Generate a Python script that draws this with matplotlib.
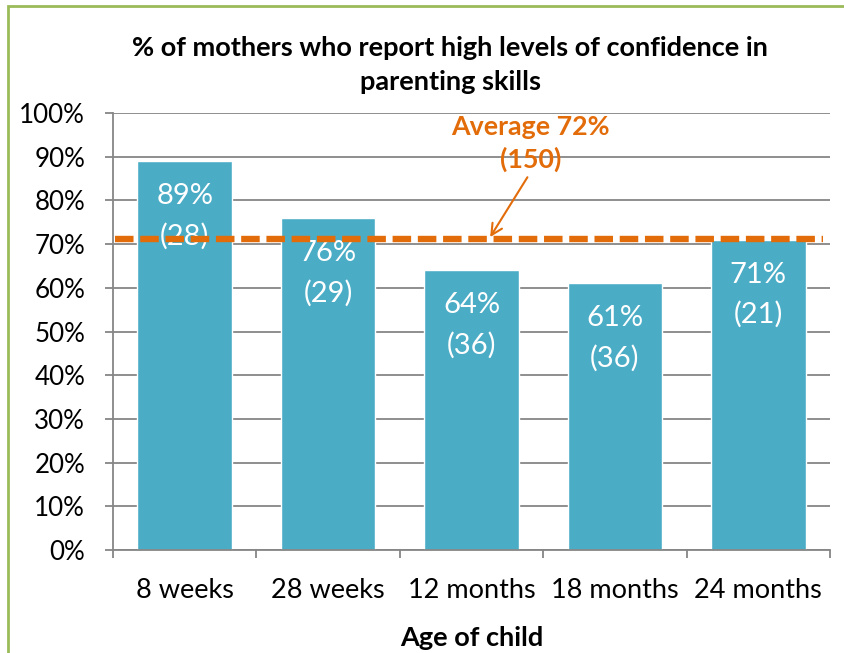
import matplotlib
matplotlib.use("Agg")
import matplotlib.pyplot as plt
from matplotlib.patches import Rectangle
from matplotlib.ticker import MultipleLocator, FuncFormatter

plt.rcParams["font.family"] = ["Lato", "DejaVu Sans"]

# 数据
categories = ["8 weeks", "28 weeks", "12 months", "18 months", "24 months"]
percent = [89, 76, 64, 61, 71]
counts = [28, 29, 36, 36, 21]
average_value = 71.1
average_label = "Average 72%\n(150)"

BAR_COLOR = "#4BACC6"
AVG_COLOR = "#E36C0A"

W, H = 845, 653
fig = plt.figure(figsize=(W / 100, H / 100), dpi=100)
# 绿色外框
fig.patches.append(Rectangle((8 / W, -0.1), 1.2, 1.1 - 6 / H, transform=fig.transFigure,
                             fill=False, edgecolor="#9BBB59", linewidth=2))

ax = fig.add_axes([113 / W, 1 - 550 / H, (830 - 113) / W, (550 - 113) / H])

x = list(range(len(categories)))
ax.bar(x, percent, width=0.66, color=BAR_COLOR, edgecolor="white", linewidth=1, zorder=2)

# 柱内标签：百分比 + 样本数
for xi, p, n in zip(x, percent, counts):
    ax.annotate(f"{p}%", (xi, p), xytext=(0, -35), textcoords="offset pixels",
                ha="center", va="center", color="white", fontsize=21, zorder=3)
    ax.annotate(f"({n})", (xi, p), xytext=(0, -75), textcoords="offset pixels",
                ha="center", va="center", color="white", fontsize=21, zorder=3)

ax.axhline(average_value, xmin=0.003, xmax=0.99, color=AVG_COLOR, linestyle=(0, (2.9, 1.05)),
           linewidth=4.6, zorder=4)
ax.text(2.41, 93.0, average_label, ha="center", va="center", fontsize=19.3, fontweight="bold",
        color=AVG_COLOR, linespacing=1.4, zorder=5)
ax.annotate("", xy=(2.13, average_value + 0.5), xytext=(2.39, 85.3),
            arrowprops=dict(arrowstyle="->", color=AVG_COLOR, lw=1.5, shrinkA=0, shrinkB=0,
                            mutation_scale=20),
            zorder=5)

ax.set_xlim(-0.5, 4.5)
ax.set_ylim(0, 100)
ax.yaxis.set_major_locator(MultipleLocator(10))
ax.yaxis.set_major_formatter(FuncFormatter(lambda v, _: f"{v:.0f}%"))
ax.grid(axis="y", color="#868686", linewidth=1.3, zorder=0)
ax.set_axisbelow(True)

ax.set_xticks([i - 0.5 for i in range(len(categories) + 1)])
ax.set_xticklabels([])
ax.set_xticks(x, minor=True)
ax.set_xticklabels(categories, minor=True, fontsize=19.5)
ax.tick_params(axis="x", which="minor", length=0, pad=20)
ax.tick_params(axis="x", which="major", length=6, color="#868686", width=1.3)
ax.tick_params(axis="y", length=6, color="#868686", width=1.3, labelsize=18.7, pad=14)

for s in ["top", "right"]:
    ax.spines[s].set_visible(False)
for s in ["left", "bottom"]:
    ax.spines[s].set_color("#868686")
    ax.spines[s].set_linewidth(1.3)

ax.set_xlabel("Age of child", fontsize=19.5, fontweight="bold", labelpad=17)
fig.text(450 / W, 1 - 64.5 / H, "% of mothers who report high levels of confidence in\nparenting skills",
         ha="center", va="center", fontsize=19.5, fontweight="bold", linespacing=1.5)

fig.savefig("out.png", dpi=100)
